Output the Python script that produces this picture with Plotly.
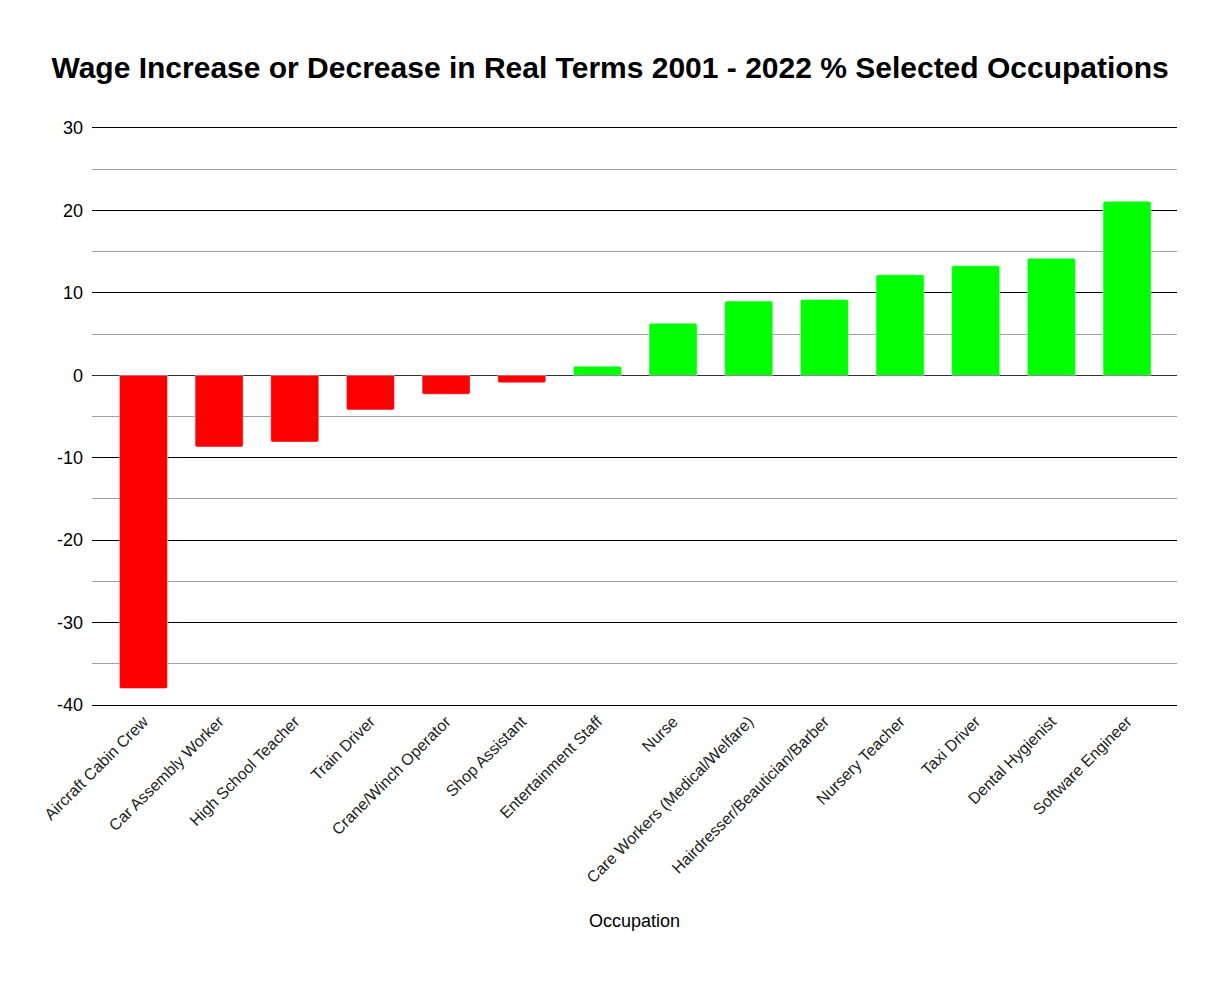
import plotly.graph_objects as go

occupations = [
    "Aircraft Cabin Crew", "Car Assembly Worker", "High School Teacher",
    "Train Driver", "Crane/Winch Operator", "Shop Assistant",
    "Entertainment Staff", "Nurse", "Care Workers (Medical/Welfare)",
    "Hairdresser/Beautician/Barber", "Nursery Teacher", "Taxi Driver",
    "Dental Hygienist", "Software Engineer",
]
change_pct = [-38.0, -8.7, -8.1, -4.2, -2.3, -0.9, 1.1, 6.3, 9.0, 9.2, 12.2, 13.3, 14.2, 21.1]

y_tick_vals = [-40, -30, -20, -10, 0, 10, 20, 30]
y_tick_text = ["-40", "-30", "-20", "-10", "0", "10", "20", "30"]

colors = ["#ff0000" if v < 0 else "#00ff00" for v in change_pct]

fig = go.Figure()
fig.add_trace(go.Bar(
    x=occupations, y=change_pct,
    marker=dict(color=colors, cornerradius=2),
    width=0.635,
))

fig.update_layout(
    width=1219, height=974,
    margin=dict(l=84, r=50, t=120, b=277),
    plot_bgcolor="white", paper_bgcolor="white",
    font=dict(family="Liberation Sans, Arial, sans-serif", color="black"),
    title=dict(
        text="<b>Wage Increase or Decrease in Real Terms 2001 - 2022 % Selected Occupations</b>",
        x=0.4939, xanchor="center", y=0.9394, yanchor="middle",
        font=dict(size=30, color="black"),
    ),
    showlegend=False,
)
fig.update_xaxes(
    range=[-0.68, 13.66],
    title=dict(text="Occupation", font=dict(size=18), standoff=29),
    tickangle=-45, tickfont=dict(size=16, color="#222222"),
    showgrid=False, showline=True, mirror=True, linecolor="black", linewidth=1,
    ticks="",
)
fig.update_yaxes(
    range=[-40, 30], tickmode="array", tickvals=y_tick_vals, ticktext=y_tick_text,
    showgrid=True, gridcolor="black", gridwidth=1,
    minor=dict(tickmode="linear", tick0=0, dtick=5, showgrid=True, gridcolor="#a0a0a0", gridwidth=1),
    zeroline=True, zerolinecolor="#333333", zerolinewidth=1,
    tickfont=dict(size=18, color="black"),
    ticks="", showline=False, ticklabelstandoff=8,
)

fig.write_html("out.html")
